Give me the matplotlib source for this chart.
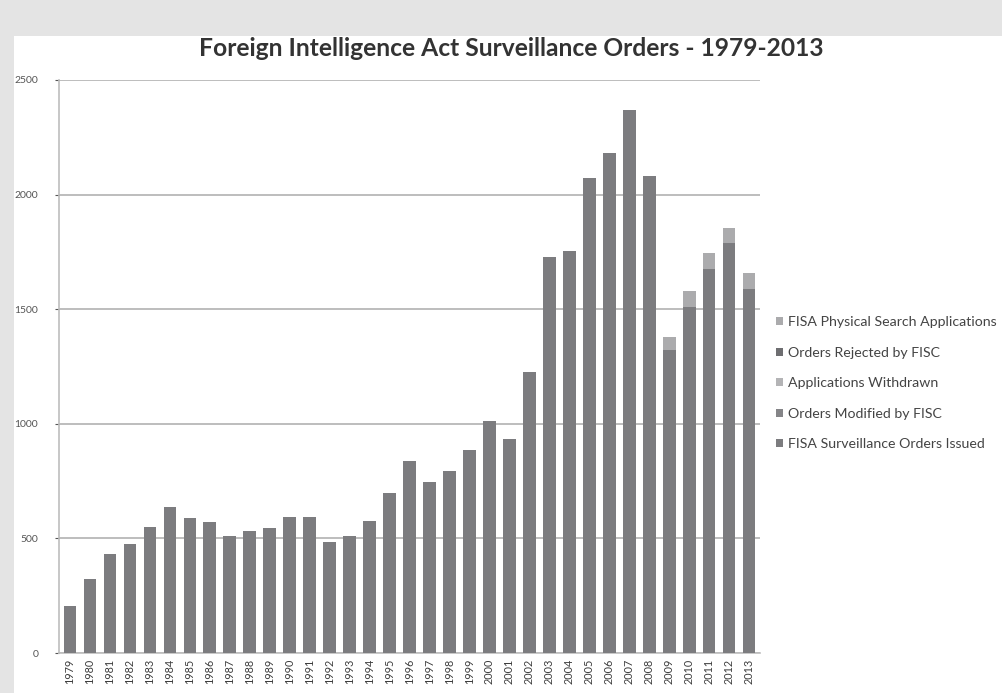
import numpy as np
import matplotlib
matplotlib.use("Agg")
import matplotlib.pyplot as plt
from matplotlib.patches import Rectangle, Patch

years = list(range(1979, 2014))

# FISA surveillance orders issued
issued = [207, 322, 433, 475, 549, 635, 587, 573, 512, 534,
          546, 595, 593, 484, 509, 576, 697, 839, 748, 796,
          886, 1012, 934, 1228, 1727, 1754, 2072, 2181, 2370, 2082,
          1320, 1508, 1675, 1789, 1590]
# the small series are not visible as separate segments
modified = [0] * 35
withdrawn = [0] * 35
rejected = [0] * 35
# light top segments on 2009-2013
physical = [0] * 30 + [57, 70, 70, 66, 67]

series_names = ["FISA Surveillance Orders Issued", "Orders Modified by FISC",
                "Applications Withdrawn", "Orders Rejected by FISC",
                "FISA Physical Search Applications"]
series_colors = ["#7c7c7f", "#858588", "#b4b4b6", "#6e6e71", "#ababad"]

plt.rcParams['font.family'] = ['Lato', 'DejaVu Sans']

fig = plt.figure(figsize=(10.02, 6.93), dpi=100)
fig.patch.set_facecolor("#e4e4e4")
# white sheet of the photographed chart
fig.patches.append(Rectangle((0.014, 0), 1.0, 0.948, transform=fig.transFigure,
                             facecolor="white", edgecolor="none", zorder=-5))

ax = fig.add_axes([0.059, 0.0577, 0.6995, 0.827])
ax.set_facecolor("white")

x = np.arange(len(years))
data = [issued, modified, withdrawn, rejected, physical]
bottom = np.zeros(len(years))
for vals, name, col in zip(data, series_names, series_colors):
    vals = np.array(vals, dtype=float)
    ax.bar(x, vals, bottom=bottom, width=0.64, color=col, label=name, zorder=3)
    bottom += vals

ax.set_ylim(0, 2500)
ax.set_xlim(-0.55, len(years) - 0.45)
ax.set_yticks(np.arange(0, 2501, 500))
ax.yaxis.grid(True, color="#bdbdbd", linewidth=1.4, zorder=1)
ax.set_xticks(x)
ax.set_xticklabels([str(y) for y in years], rotation=90, fontsize=7.8, color="#3c3c3c")
ax.tick_params(axis="y", labelsize=7.5, colors="#555555", length=3, pad=12)
ax.tick_params(axis="x", length=0, pad=4)
for s in ["top", "right"]:
    ax.spines[s].set_visible(False)
ax.spines["left"].set_color("#bdbdbd")
ax.spines["bottom"].set_color("#bdbdbd")
ax.spines["left"].set_linewidth(1.2)
ax.spines["bottom"].set_linewidth(1.2)

fig.text(0.51, 0.93, "Foreign Intelligence Act Surveillance Orders - 1979-2013",
         ha="center", va="center", fontsize=17.7, fontweight="bold", color="#333333")

handles = [Patch(facecolor=c, edgecolor="none") for c in series_colors][::-1]
leg = fig.legend(handles, series_names[::-1], loc="center left",
                 bbox_to_anchor=(0.762, 0.447), frameon=False, fontsize=10.2,
                 handlelength=0.5, handleheight=0.5, handletextpad=0.3,
                 labelspacing=1.3, labelcolor="#444444")

fig.savefig("out.png", dpi=100, facecolor=fig.get_facecolor())
